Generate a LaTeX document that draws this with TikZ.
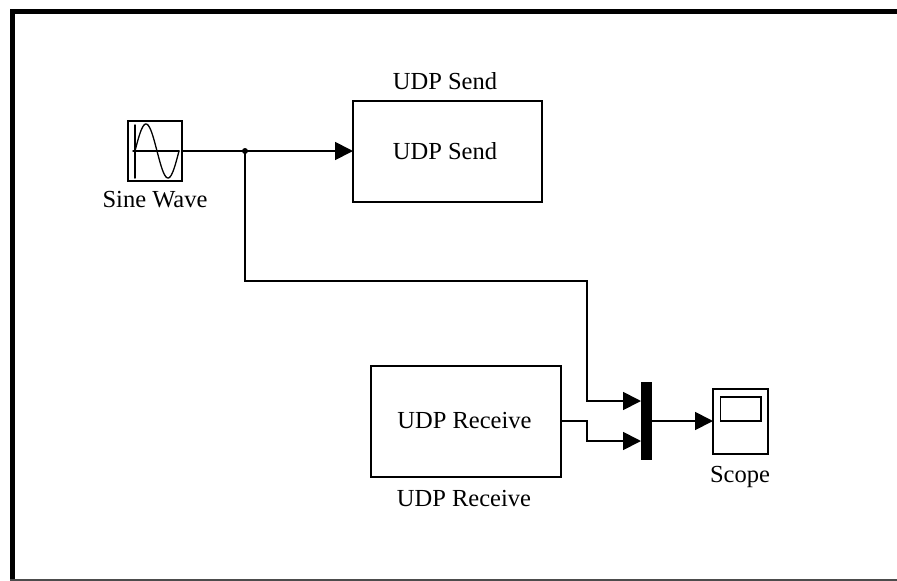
\documentclass[tikz,border=0pt]{standalone}
\usepackage{fontspec}
\setmainfont{Liberation Serif}
\usetikzlibrary{calc}
\usetikzlibrary{arrows.meta}
\tikzset{
  block/.style={draw,line width=2,minimum width=#1,inner sep=0pt,outer sep=0pt},
  label/.style={font=\fontsize{24.5}{24.5}\selectfont,inner sep=0pt},
  wire/.style={line width=1.8},
  sig/.style={wire,-{Triangle[length=18pt,width=18pt]}}
}
\begin{document}
\begin{tikzpicture}[x=1pt,y=-1pt,cap=round]
        \useasboundingbox (0,0) rectangle (897,581);
        \fill[black] (9.5,9) rectangle (897,13.5);
        \fill[black] (9.5,9) rectangle (14.5,581);
        \fill[black!70] (9.5,578.5) rectangle (897,581);
        % blocks
        \node[block=54.5,minimum height=60] (sine) at (154.75,151) {};
        \node[block=189,minimum height=101] (send) at (447.5,151) {};
        \node[block=190,minimum height=111] (receive) at (466,421) {};
        \node[draw,fill=black,minimum width=10,minimum height=77,inner sep=0pt,outer sep=0pt] (mux) at (646,421) {};
        \node[block=55,minimum height=65] (scope) at (740.5,421) {};
        \node[draw,line width=1.8,minimum width=40.5,minimum height=24,inner sep=0pt] (screen) at (740.75,409) {};
        % sine icon
        \draw[line width=1.5] (135,125) -- (135,178);
        \draw[line width=1.5] (133,151) -- (179,151);
        \draw[line width=1.3] plot[domain=0:360,samples=60,smooth] ({135+\x/360*44},{151-sin(\x)*27});
        % labels
        \node[label] (sinelabel) at (155,200) {Sine Wave};
        \node[label] (sendlabel) at (445,81) {UDP Send};
        \node[label] (sendtext) at (445,151) {UDP Send};
        \node[label] (receivetext) at (464.5,421) {UDP Receive};
        \node[label] (receivelabel) at (464,499) {UDP Receive};
        \node[label] (scopelabel) at (740,477) {Scope};
        % wires
        \coordinate (branch) at (245,151);
        \coordinate (muxa) at (641,401);
        \coordinate (muxb) at (641,441);
        \draw[sig] (sine.east) -- (send.west);
        \fill (branch) circle (3);
        \draw[wire] (branch) -- (245,281) -- (587,281) -- (587,401) -- (620,401);
        \draw[sig] (620,401) -- (muxa);
        \draw[wire] (receive.east) -- (587,421) -- (587,441) -- (620,441);
        \draw[sig] (620,441) -- (muxb);
        \draw[sig] (mux.east) -- (scope.west);
\end{tikzpicture}
\end{document}
